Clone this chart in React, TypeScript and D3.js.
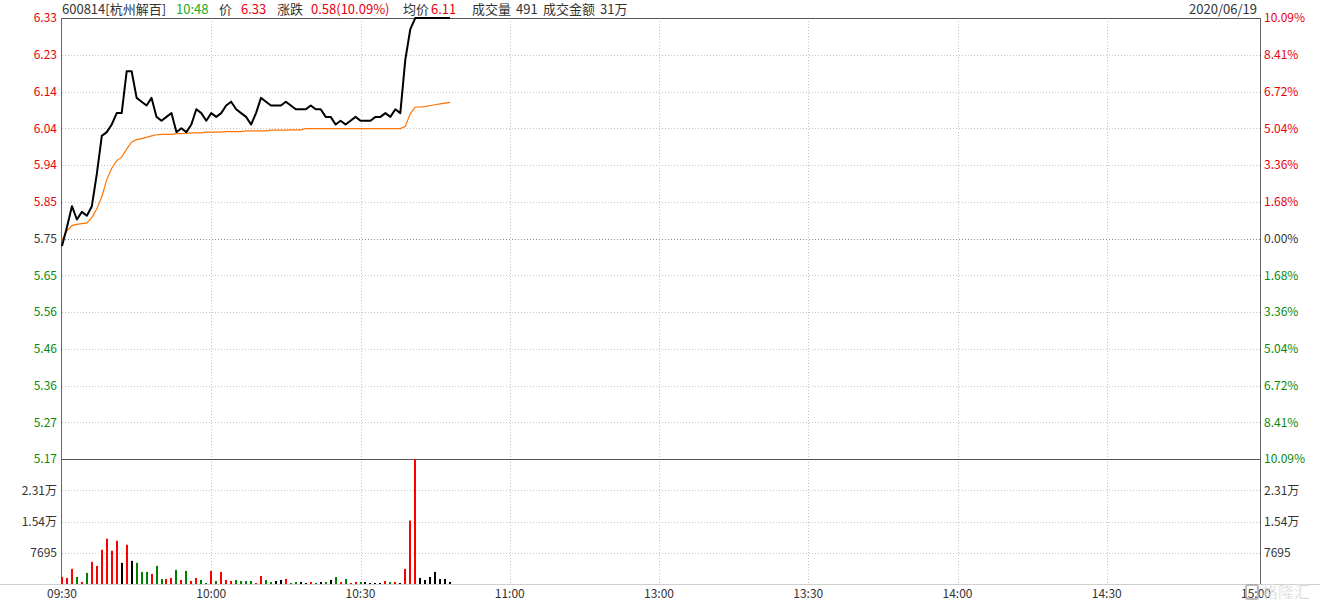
import React from "react";
import * as d3 from "d3";

// ---------- data ----------
const prevClose = 5.75;
const maxPct = 0.1009;

const timeLabels = ["09:30", "10:00", "10:30", "11:00", "13:00", "13:30", "14:00", "14:30", "15:00"];
const timeLabelIdx = [0, 30, 60, 90, 120, 150, 180, 210, 240];

const priceLabels = ["6.33", "6.23", "6.14", "6.04", "5.94", "5.85", "5.75", "5.65", "5.56", "5.46", "5.36", "5.27", "5.17"];
const pctLabels = ["10.09%", "8.41%", "6.72%", "5.04%", "3.36%", "1.68%", "0.00%", "1.68%", "3.36%", "5.04%", "6.72%", "8.41%", "10.09%"];

const volTickValues = [23085, 15390, 7695];
const volTickLabels = ["2.31万", "1.54万", "7695"];
const volMax = 30780;

// minute prices 09:30 .. 10:48
const prices = [
  5.73, 5.78, 5.835, 5.8, 5.82, 5.81, 5.835, 5.92, 6.02, 6.03,
  6.05, 6.08, 6.08, 6.19, 6.19, 6.12, 6.11, 6.1, 6.12, 6.07,
  6.06, 6.07, 6.08, 6.03, 6.04, 6.03, 6.05, 6.09, 6.08, 6.06,
  6.08, 6.07, 6.08, 6.1, 6.11, 6.09, 6.08, 6.07, 6.05, 6.08,
  6.12, 6.11, 6.1, 6.1, 6.1, 6.11, 6.1, 6.09, 6.09, 6.09,
  6.1, 6.09, 6.09, 6.07, 6.07, 6.05, 6.06, 6.05, 6.06, 6.07,
  6.06, 6.06, 6.06, 6.07, 6.07, 6.08, 6.07, 6.09, 6.08, 6.22,
  6.3, 6.33, 6.33, 6.33, 6.33, 6.33, 6.33, 6.33, 6.33,
];

const avgPrices = [
  5.745, 5.77, 5.784, 5.787, 5.789, 5.791, 5.805, 5.828, 5.86, 5.905,
  5.935, 5.955, 5.964, 5.985, 6.004, 6.01, 6.013, 6.016, 6.02, 6.023,
  6.024, 6.024, 6.024, 6.026, 6.026, 6.027, 6.028, 6.028, 6.028, 6.03,
  6.03, 6.03, 6.03, 6.031, 6.031, 6.031, 6.031, 6.033, 6.033, 6.033,
  6.033, 6.033, 6.035, 6.035, 6.035, 6.035, 6.036, 6.036, 6.036, 6.039,
  6.039, 6.039, 6.039, 6.039, 6.039, 6.039, 6.039, 6.039, 6.039, 6.039,
  6.039, 6.039, 6.039, 6.039, 6.039, 6.039, 6.039, 6.039, 6.039, 6.045,
  6.078, 6.096, 6.096, 6.097, 6.1, 6.102, 6.104, 6.106, 6.108,
];

const volumes = [
  1736, 1490, 3720, 1736, 500, 2730, 5460, 4460, 8430, 11160,
  8180, 10660, 5200, 9670, 5700, 5200, 2980, 2980, 2480, 4460,
  1240, 1240, 1490, 3470, 990, 3220, 740, 1490, 990, 250,
  3220, 740, 2980, 990, 740, 990, 740, 740, 740, 250,
  1980, 990, 500, 740, 990, 1240, 250, 500, 500, 250,
  500, 250, 500, 500, 990, 1736, 500, 1240, 250, 500,
  500, 500, 250, 250, 250, 740, 500, 500, 250, 3720,
  15620, 30750, 1490, 990, 1736, 2980, 1240, 1240, 500,
];

// r = up, g = down, k = unchanged
const volDir = [
  "r", "r", "r", "g", "r", "g", "r", "r", "r", "r",
  "r", "r", "k", "r", "k", "g", "g", "g", "r", "g",
  "g", "r", "r", "g", "r", "g", "r", "r", "g", "g",
  "r", "g", "r", "r", "r", "g", "g", "g", "g", "r",
  "r", "g", "g", "k", "k", "r", "g", "g", "k", "k",
  "r", "g", "k", "g", "k", "g", "r", "g", "r", "r",
  "g", "k", "k", "k", "k", "r", "g", "r", "k", "r",
  "r", "r", "k", "k", "k", "k", "k", "k", "k",
];

// ---------- layout ----------
const W = 1320;
const H = 602;
const L = 62;
const R = 1260.5;
const TOP = 18;
const MID = 459;
const BOT = 584;

const RED = "#e8000b";
const GREEN = "#0a8a0a";
const TXT = "#333333";
const FONT = "'Microsoft YaHei', 'Noto Sans CJK SC', 'Noto Sans', sans-serif";

export default function App() {
  const x = d3.scaleLinear().domain([0, 241]).range([L, 1261]);
  const y = d3
    .scaleLinear()
    .domain([prevClose * (1 - maxPct), prevClose * (1 + maxPct)])
    .range([MID, TOP]);
  const yv = d3.scaleLinear().domain([0, volMax]).range([BOT, MID]);

  const levelValues = priceLabels.map((_, k) => prevClose * (1 + maxPct * (6 - k) / 6));

  const priceLine = d3
    .line<number>()
    .x((_, i) => x(i))
    .y((d) => y(d));

  const dirColor: Record<string, string> = { r: "#ff0000", g: "#008000", k: "#000000" };

  return (
    <svg
      width={W}
      height={H}
      style={{ position: "absolute", left: 0, top: 0, background: "#fff" }}
      fontFamily={FONT}
    >
      <rect x={0} y={0} width={W} height={H} fill="#fff" />

      {/* horizontal price grid */}
      {levelValues.map((v, k) =>
        k === 0 || k === 12 ? null : (
          <line
            key={"hg" + k}
            x1={L}
            x2={R}
            y1={Math.round(y(v)) + 0.5}
            y2={Math.round(y(v)) + 0.5}
            stroke={k === 6 ? "#8c8c8c" : "#c4c4c4"}
            strokeDasharray="1 2"
          />
        )
      )}

      {/* volume grid */}
      {volTickValues.map((v, k) => (
        <line
          key={"vg" + k}
          x1={L}
          x2={R}
          y1={Math.round(yv(v)) + 0.5}
          y2={Math.round(yv(v)) + 0.5}
          stroke="#c4c4c4"
          strokeDasharray="1 2"
        />
      ))}

      {/* vertical grid */}
      {timeLabelIdx.slice(1, -1).map((t) => (
        <line
          key={"vgx" + t}
          x1={Math.round(x(t)) + 0.5}
          x2={Math.round(x(t)) + 0.5}
          y1={TOP}
          y2={BOT}
          stroke="#c4c4c4"
          strokeDasharray="1 2"
        />
      ))}

      {/* frame */}
      <line x1={L - 0.5} x2={R} y1={TOP + 0.5} y2={TOP + 0.5} stroke="#555" />
      <line x1={L - 0.5} x2={R} y1={MID + 0.5} y2={MID + 0.5} stroke="#555" />
      <line x1={L - 0.5} x2={L - 0.5} y1={TOP} y2={BOT} stroke="#666" />
      <line x1={R} x2={R} y1={TOP} y2={BOT} stroke="#666" />
      <line x1={0} x2={W} y1={BOT + 0.5} y2={BOT + 0.5} stroke="#cfcfcf" />

      {/* volume bars */}
      {volumes.map((v, i) => (
        <rect
          key={"vb" + i}
          x={Math.round(x(i)) - 1}
          y={yv(v)}
          width={2}
          height={BOT - yv(v)}
          fill={dirColor[volDir[i]]}
        />
      ))}

      {/* avg price line */}
      <path d={priceLine(avgPrices) || ""} fill="none" stroke="#ff7300" strokeWidth={1.2} />
      {/* price line */}
      <path
        d={priceLine(prices) || ""}
        fill="none"
        stroke="#000"
        strokeWidth={2}
        strokeLinejoin="round"
      />

      {/* left price labels */}
      {priceLabels.map((lab, k) => (
        <text
          key={"pl" + k}
          x={57}
          y={y(levelValues[k])}
          dy="0.36em"
          textAnchor="end"
          fontSize={12}
          fill={k < 6 ? RED : k > 6 ? GREEN : TXT}
        >
          {lab}
        </text>
      ))}
      {/* right pct labels */}
      {pctLabels.map((lab, k) => (
        <text
          key={"pr" + k}
          x={1264}
          y={y(levelValues[k])}
          dy="0.36em"
          textAnchor="start"
          fontSize={12}
          fill={k < 6 ? RED : k > 6 ? GREEN : TXT}
        >
          {lab}
        </text>
      ))}

      {/* volume labels */}
      {volTickValues.map((v, k) => (
        <g key={"vl" + k}>
          <text x={57} y={yv(v)} dy="0.36em" textAnchor="end" fontSize={12} fill={TXT}>
            {volTickLabels[k]}
          </text>
          <text x={1264} y={yv(v)} dy="0.36em" textAnchor="start" fontSize={12} fill={TXT}>
            {volTickLabels[k]}
          </text>
        </g>
      ))}

      {/* time labels */}
      {timeLabels.map((lab, k) => (
        <text
          key={"tl" + k}
          x={x(timeLabelIdx[k])}
          y={598}
          textAnchor="middle"
          fontSize={12}
          fill={TXT}
        >
          {lab}
        </text>
      ))}

      {/* header */}
      <g fontSize={13}>
        <text x={62} y={14} fill={TXT}>600814[杭州解百]</text>
        <text x={176} y={14} fill="#22aa22">10:48</text>
        <text x={219} y={14} fill={TXT}>价</text>
        <text x={241} y={14} fill={RED}>6.33</text>
        <text x={277} y={14} fill={TXT}>涨跌</text>
        <text x={311} y={14} fill={RED}>0.58(10.09%)</text>
        <text x={403} y={14} fill={TXT}>均价</text>
        <text x={431} y={14} fill={RED}>6.11</text>
        <text x={472} y={14} fill={TXT}>成交量</text>
        <text x={516} y={14} fill={TXT}>491</text>
        <text x={543} y={14} fill={TXT}>成交金额</text>
        <text x={600} y={14} fill={TXT}>31万</text>
        <text x={1257} y={14} fill={TXT} textAnchor="end">2020/06/19</text>
      </g>

      {/* watermark */}
      <g opacity={0.7}>
        <rect x={1246} y={585} width={12} height={14} fill="none" stroke="#a0a0a0" strokeWidth={2} rx={2} />
        <text x={1262} y={598} fontSize={16} fill="#b4b4b4" stroke="#fff" strokeWidth={0.4}>
          格隆汇
        </text>
      </g>
    </svg>
  );
}
